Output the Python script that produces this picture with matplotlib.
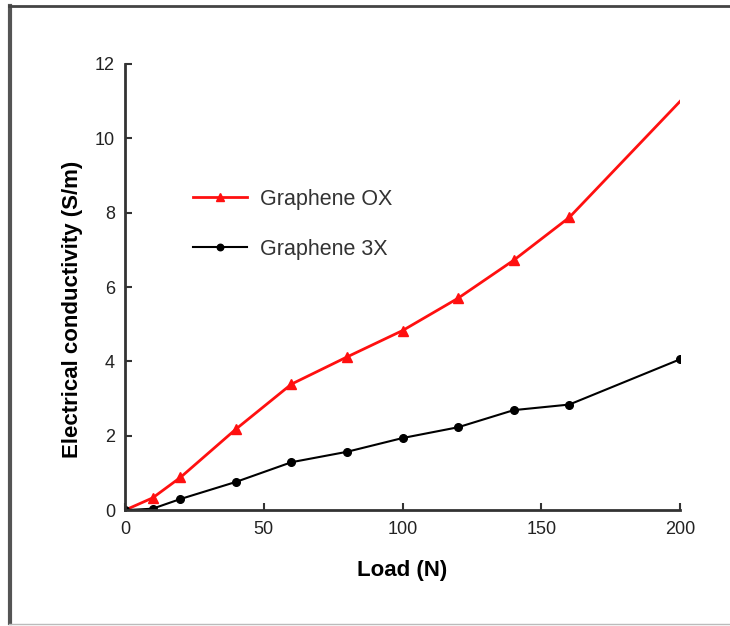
import matplotlib
matplotlib.use("Agg")
import matplotlib.pyplot as plt
from matplotlib.lines import Line2D

plt.rcParams['font.family'] = ['Liberation Sans', 'DejaVu Sans']

load = [0, 10, 20, 40, 60, 80, 100, 120, 140, 160, 200]
graphene_ox = [0.0, 0.33, 0.88, 2.18, 3.39, 4.12, 4.83, 5.70, 6.72, 7.87, 11.0]
graphene_3x = [0.0, 0.04, 0.30, 0.76, 1.29, 1.57, 1.94, 2.23, 2.69, 2.84, 4.06]
x_ticks = [0, 50, 100, 150, 200]
y_ticks = [0, 2, 4, 6, 8, 10, 12]

fig = plt.figure(figsize=(7.30, 6.26), dpi=100)
ax = fig.add_axes([0.171, 0.185, 0.761, 0.713])

ax.plot(load, graphene_ox, color='#ff1010', lw=2.0, marker='^', ms=7,
        markevery=list(range(len(load) - 1)), label='Graphene OX')
ax.plot(load, graphene_3x, color='black', lw=1.5, marker='o', ms=5.5,
        label='Graphene 3X')

ax.set_xlim(0, 200)
ax.set_ylim(0, 12)
ax.set_xticks(x_ticks)
ax.set_yticks(y_ticks)
for side in ('top', 'right'):
    ax.spines[side].set_visible(False)
for side in ('left', 'bottom'):
    ax.spines[side].set_linewidth(2.0)
    ax.spines[side].set_color('#333333')
ax.tick_params(direction='in', length=5, width=1.5, colors='#333333',
               labelsize=13, labelcolor='#222222', pad=8)
ax.tick_params(axis='y', pad=7)

ax.set_xlabel('Load (N)', fontsize=16, fontweight='bold')
ax.set_ylabel('Electrical conductivity (S/m)', fontsize=16, fontweight='bold')
ax.xaxis.set_label_coords(0.50, -0.112)
ax.yaxis.set_label_coords(-0.076, 0.45)

leg = ax.legend(loc='upper left', bbox_to_anchor=(0.088, 0.763), frameon=False,
                fontsize=15.5, handlelength=2.5, labelspacing=1.34,
                handletextpad=0.6, markerscale=0.85)
for t in leg.get_texts():
    t.set_color('#333333')

# outer panel border
fig.add_artist(Line2D([0.014, 0.014], [0.004, 0.991], transform=fig.transFigure,
                      color='#555555', lw=3))
fig.add_artist(Line2D([0.012, 1.0], [0.991, 0.991], transform=fig.transFigure,
                      color='#444444', lw=2))
fig.add_artist(Line2D([0.012, 1.0], [0.003, 0.003], transform=fig.transFigure,
                      color='#bbbbbb', lw=1))

fig.savefig('out.png', dpi=100)
